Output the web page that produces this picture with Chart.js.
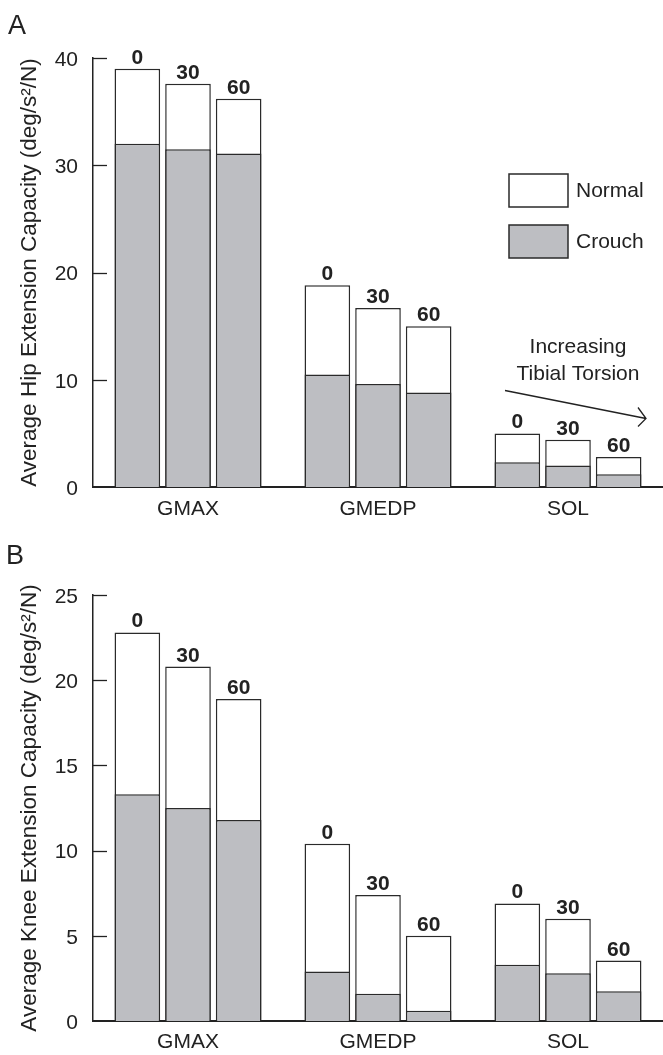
<!DOCTYPE html>
<html>
<head>
<meta charset="utf-8">
<script src="https://cdn.jsdelivr.net/npm/chart.js@4.4.1/dist/chart.umd.min.js"></script>
<style>
  body { margin: 0; background: #fff; }
  .panel { position: absolute; left: 0; }
</style>
</head>
<body>
<div class="panel" style="top:0"><canvas id="hipChart" width="663" height="530"></canvas></div>
<div class="panel" style="top:530px"><canvas id="kneeChart" width="663" height="525"></canvas></div>
<script>
const muscles = ['GMAX', 'GMEDP', 'SOL'];
const torsionLabels = ['0', '30', '60'];

// A: hip extension capacity
const hipNormal0 = [39.0, 18.8, 5.0];
const hipNormal30 = [37.6, 16.7, 4.4];
const hipNormal60 = [36.2, 15.0, 2.8];
const hipCrouch0 = [32.0, 10.5, 2.3];
const hipCrouch30 = [31.5, 9.6, 2.0];
const hipCrouch60 = [31.1, 8.8, 1.2];

// B: knee extension capacity
const kneeNormal0 = [22.8, 10.4, 6.9];
const kneeNormal30 = [20.8, 7.4, 6.0];
const kneeNormal60 = [18.9, 5.0, 3.55];
const kneeCrouch0 = [13.3, 2.9, 3.3];
const kneeCrouch30 = [12.5, 1.6, 2.8];
const kneeCrouch60 = [11.8, 0.6, 1.75];

const FONT = "'Liberation Sans', Arial, Helvetica, sans-serif";
const INK = '#222';
const GREY = '#bdbec2';

Chart.defaults.font.family = FONT;
Chart.defaults.color = INK;

function barSet(label, data, stack, fill, torsion){
    return {
        label: label,
        data: data,
        stack: stack,
        torsion: torsion,
        backgroundColor: fill,
        borderColor: '#2a2a2a',
        borderWidth: 1.5,
        categoryPercentage: 0.8,
        barPercentage: 0.9
    };
}

// tick marks pointing into the plot, torsion labels over bars, panel letter, extras
const decorPlugin = {
    id: 'decor',
    afterDatasetsDraw(chart, args, opts){
        const ctx = chart.ctx;
        const area = chart.chartArea;
        const y = chart.scales.y;
        ctx.save();
        ctx.strokeStyle = INK;
        ctx.lineWidth = 1.3;
        y.ticks.forEach(t => {
            if (t.value === 0) return;
            const py = Math.round(y.getPixelForValue(t.value)) + 0.5;
            ctx.beginPath();
            ctx.moveTo(area.left, py);
            ctx.lineTo(area.left + 14, py);
            ctx.stroke();
        });

        ctx.fillStyle = INK;
        ctx.font = 'bold 21px ' + FONT;
        ctx.textAlign = 'center';
        ctx.textBaseline = 'alphabetic';
        chart.data.datasets.forEach((ds, i) => {
            if (ds.torsion === undefined) return;
            chart.getDatasetMeta(i).data.forEach(bar => {
                ctx.fillText(ds.torsion, bar.x, bar.y - 5);
            });
        });

        ctx.font = '27px ' + FONT;
        ctx.textAlign = 'left';
        ctx.fillText(opts.letter, opts.letterX, opts.letterY);

        if (opts.legend){
            const bx = area.right - 154, bw = 59, bh = 33;
            [['Normal', '#fff', 116], ['Crouch', GREY, 167]].forEach(([txt, fill, dy]) => {
                ctx.fillStyle = fill;
                ctx.fillRect(bx, area.top + dy, bw, bh);
                ctx.strokeStyle = '#2a2a2a';
                ctx.lineWidth = 1.5;
                ctx.strokeRect(bx, area.top + dy, bw, bh);
                ctx.fillStyle = INK;
                ctx.font = '21px ' + FONT;
                ctx.textBaseline = 'middle';
                ctx.fillText(txt, bx + bw + 8, area.top + dy + bh / 2 + 1);
            });
        }

        if (opts.arrow){
            ctx.fillStyle = INK;
            ctx.font = '21px ' + FONT;
            ctx.textAlign = 'center';
            ctx.textBaseline = 'alphabetic';
            ctx.fillText('Increasing', area.right - 85, area.top + 295);
            ctx.fillText('Tibial Torsion', area.right - 85, area.top + 322);
            const x0 = area.right - 158, y0 = area.top + 332.5;
            const x1 = area.right - 17, y1 = area.top + 360.5;
            ctx.strokeStyle = INK;
            ctx.lineWidth = 1.3;
            ctx.beginPath();
            ctx.moveTo(x0, y0);
            ctx.lineTo(x1, y1);
            ctx.moveTo(x1 - 8, y1 - 11);
            ctx.lineTo(x1, y1);
            ctx.lineTo(x1 - 8, y1 + 8);
            ctx.stroke();
        }
        ctx.restore();
    }
};

function buildPanel(canvasId, normals, crouches, yMax, yStep, yTitle, layout){
    const datasets = [];
    crouches.forEach((data, i) => datasets.push(barSet('Crouch ' + torsionLabels[i], data, 's' + i, GREY)));
    normals.forEach((data, i) => datasets.push(barSet('Normal ' + torsionLabels[i], data, 's' + i, '#ffffff', torsionLabels[i])));

    return new Chart(document.getElementById(canvasId), {
        type: 'bar',
        data: { labels: muscles, datasets: datasets },
        options: {
            responsive: false,
            animation: false,
            devicePixelRatio: 1,
            layout: { padding: { top: layout.top, left: 0, right: 0, bottom: 0 } },
            plugins: {
                legend: { display: false },
                tooltip: { enabled: false },
                decor: layout.decor
            },
            scales: {
                x: {
                    offset: true,
                    grid: { display: false, drawTicks: false },
                    border: { display: true, color: INK, width: 2 },
                    ticks: { font: { size: 21 }, color: INK, padding: layout.xPad },
                    afterFit: s => { s.height = layout.xHeight; }
                },
                y: {
                    stacked: false,
                    min: 0,
                    max: yMax,
                    grid: { display: false, drawTicks: false },
                    border: { display: true, color: INK, width: 1.5 },
                    ticks: { stepSize: yStep, font: { size: 21 }, color: INK, padding: 15, labelOffset: 2 },
                    title: {
                        display: true,
                        text: yTitle,
                        font: { size: 22.5 },
                        color: INK,
                        padding: { top: 16, bottom: 0 }
                    },
                    afterFit: s => { s.width = 93; }
                }
            }
        },
        plugins: [decorPlugin]
    });
}

buildPanel('hipChart',
    [hipNormal0, hipNormal30, hipNormal60],
    [hipCrouch0, hipCrouch30, hipCrouch60],
    40, 10, 'Average Hip Extension Capacity (deg/s\u00b2/N)',
    { top: 58, xHeight: 43, xPad: 10,
      decor: { letter: 'A', letterX: 8, letterY: 34, legend: true, arrow: true } });

buildPanel('kneeChart',
    [kneeNormal0, kneeNormal30, kneeNormal60],
    [kneeCrouch0, kneeCrouch30, kneeCrouch60],
    25, 5, 'Average Knee Extension Capacity (deg/s\u00b2/N)',
    { top: 65, xHeight: 34, xPad: 9,
      decor: { letter: 'B', letterX: 6, letterY: 34, legend: false, arrow: false } });
</script>
</body>
</html>
